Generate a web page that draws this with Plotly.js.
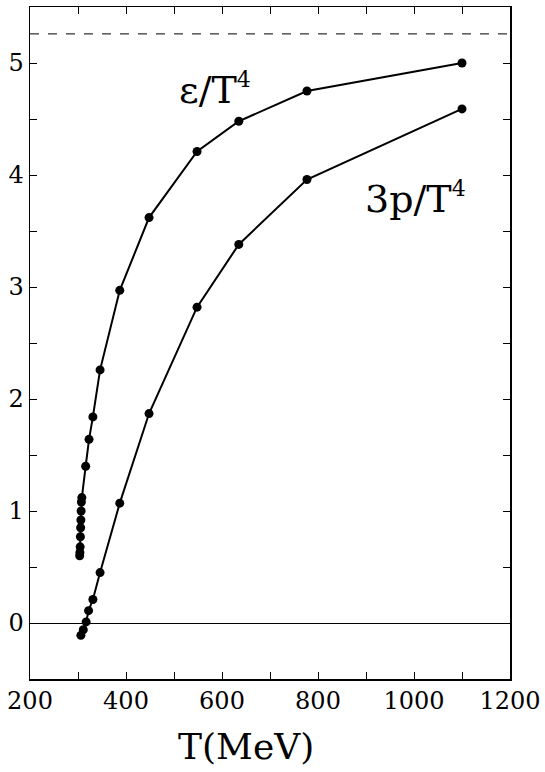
<!DOCTYPE html>
<html>
<head>
<meta charset="utf-8">
<script src="https://cdn.plot.ly/plotly-3.0.1.min.js"></script>
<style>
  html, body { margin: 0; padding: 0; background: #ffffff; }
  #chart { width: 545px; height: 772px; }
</style>
</head>
<body>
<div id="chart"></div>
<script>
// Energy density epsilon/T^4 vs T (MeV)
const T_eps = [303.5, 304, 304.5, 305, 305.5, 306, 306.5, 307, 308, 316, 323, 331, 346, 387, 448, 548, 635, 777, 1100];
const eps   = [0.60, 0.63, 0.68, 0.77, 0.85, 0.92, 1.00, 1.08, 1.12, 1.40, 1.64, 1.84, 2.26, 2.97, 3.62, 4.21, 4.48, 4.75, 5.00];

// Pressure 3p/T^4 vs T (MeV)
const T_p = [306, 311, 317, 322, 331, 346, 387, 448, 548, 635, 777, 1100];
const p3  = [-0.11, -0.06, 0.01, 0.11, 0.21, 0.45, 1.07, 1.87, 2.82, 3.38, 3.96, 4.59];

// Stefan-Boltzmann limit (dashed line)
const SB_LIMIT = 5.26;

// Axis title and curve labels
const xTitle = 'T(MeV)';
const labelText = ['ε/T<sup><span style="font-size:22px">4</span></sup>', '3p/T<sup><span style="font-size:22px">4</span></sup>'];
const labelX = [585, 1003];
const labelY = [4.76, 3.79];

const FONT = 'DejaVu Serif, Liberation Serif, serif';

const lineStyle = {color: '#000', width: 2};
const markerStyle = {color: '#000', size: 9};

const traces = [
  {x: T_eps, y: eps, mode: 'lines+markers', line: lineStyle, marker: markerStyle, hoverinfo: 'skip'},
  {x: T_p, y: p3, mode: 'lines+markers', line: lineStyle, marker: markerStyle, hoverinfo: 'skip'}
];

const axisCommon = {
  showgrid: false,
  showline: true,
  linecolor: '#000',
  linewidth: 1.5,
  mirror: 'allticks',
  ticks: 'inside',
  ticklen: 7,
  tickwidth: 1,
  tickcolor: '#000',
  tickfont: {family: FONT, size: 24, color: '#000'},
  tickmode: 'linear',
  fixedrange: true
};

const layout = {
  width: 545,
  height: 772,
  margin: {l: 30, r: 35, t: 7, b: 93},
  paper_bgcolor: '#fff',
  plot_bgcolor: '#fff',
  showlegend: false,
  font: {family: FONT, color: '#000'},
  xaxis: Object.assign({}, axisCommon, {
    range: [200, 1200],
    tick0: 200,
    dtick: 200,
    minor: {dtick: 100, ticks: 'inside', ticklen: 7, tickwidth: 1, tickcolor: '#000', showgrid: false},
    zeroline: false
  }),
  yaxis: Object.assign({}, axisCommon, {
    range: [-0.5, 5.5],
    tick0: 0,
    dtick: 1,
    minor: {dtick: 0.5, ticks: 'inside', ticklen: 7, tickwidth: 1, tickcolor: '#000', showgrid: false},
    zeroline: true,
    zerolinecolor: '#000',
    zerolinewidth: 1
  }),
  shapes: [
    {type: 'line', xref: 'paper', yref: 'y', x0: 0, x1: 1, y0: SB_LIMIT, y1: SB_LIMIT,
     line: {color: '#000', width: 1, dash: 'dash'}}
  ],
  annotations: labelText.map((t, i) => ({
    text: t, x: labelX[i], y: labelY[i], xref: 'x', yref: 'y',
    showarrow: false, font: {family: FONT, size: 38, color: '#000'}
  })).concat([{
    text: xTitle, xref: 'paper', yref: 'paper', x: 0.45, y: -0.1, xanchor: 'center', yanchor: 'middle',
    showarrow: false, font: {family: FONT, size: 36, color: '#000'}
  }])
};

Plotly.newPlot('chart', traces, layout, {staticPlot: true, displayModeBar: false});
</script>
</body>
</html>
